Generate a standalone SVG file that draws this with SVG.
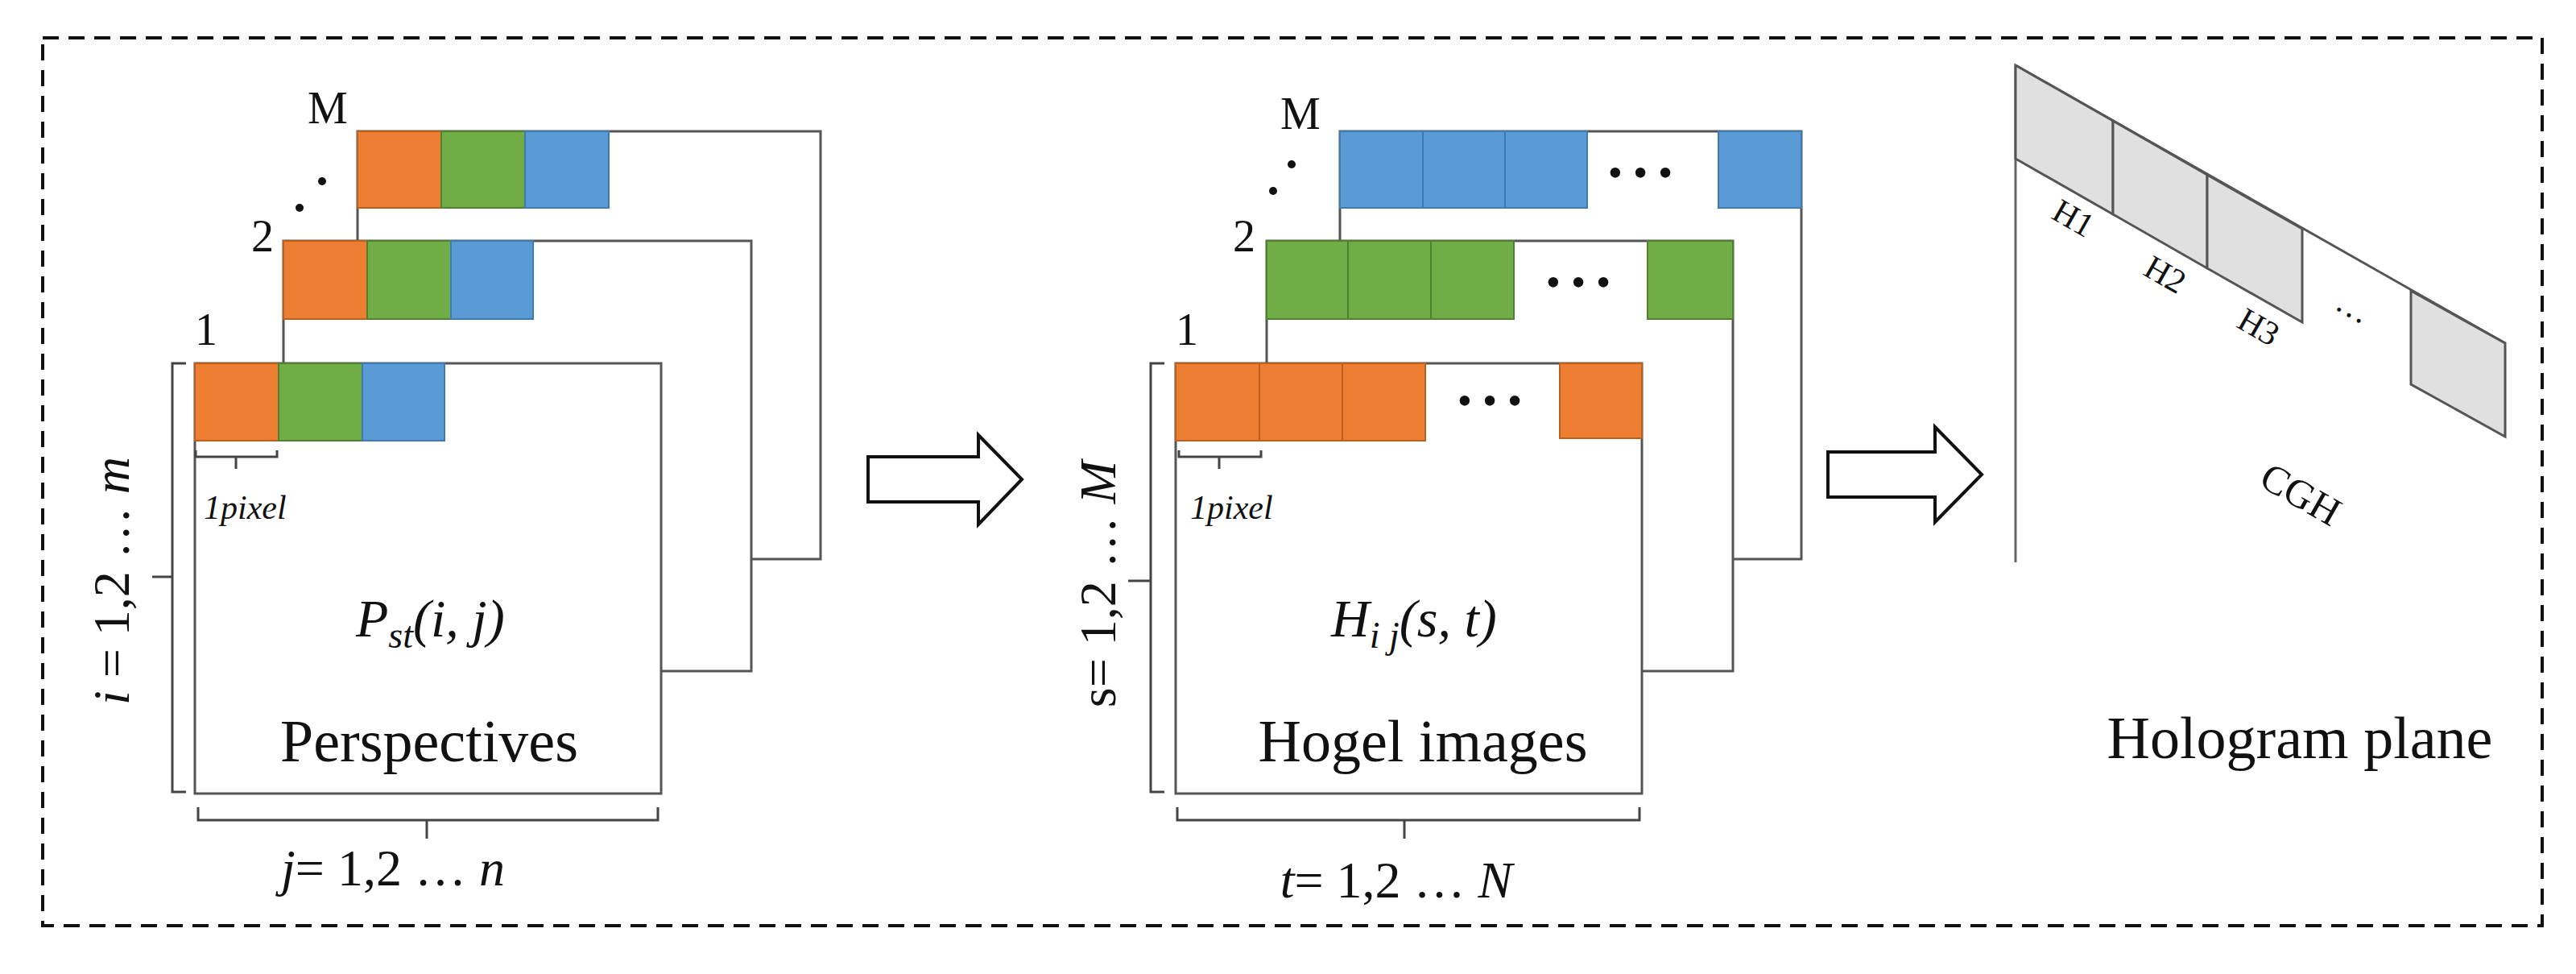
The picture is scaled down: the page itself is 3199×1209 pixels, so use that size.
<svg xmlns="http://www.w3.org/2000/svg" width="3199" height="1209" viewBox="0 0 3199 1209">
<style>
.fr{fill:#fff;stroke:#555;stroke-width:3}
.o{fill:#ED7D31;stroke:#B85F22;stroke-width:2}
.g{fill:#70AD47;stroke:#4F8230;stroke-width:2}
.b{fill:#5B9BD5;stroke:#3F7AB0;stroke-width:2}
.ln{fill:none;stroke:#444;stroke-width:3}
.t{font-family:'Liberation Serif','DejaVu Serif',serif;fill:#111}
.m{font-family:'Liberation Serif','DejaVu Serif',serif;font-style:italic;fill:#111}
.gc{fill:#E0E0E0;stroke:#555;stroke-width:3}
.ar{fill:#fff;stroke:#111;stroke-width:4}
</style>
<rect x="53" y="47" width="3104" height="1102" fill="none" stroke="#111" stroke-width="4" stroke-dasharray="20,12"/>
<g id="perspectives">
<rect class="fr" x="444" y="163" width="575" height="531"/>
<rect class="o" x="444" y="163" width="104" height="95"/><rect class="g" x="548" y="163" width="104" height="95"/><rect class="b" x="652" y="163" width="104" height="95"/>
<rect class="fr" x="352" y="299" width="581" height="534"/>
<rect class="o" x="352" y="299" width="104" height="97"/><rect class="g" x="456" y="299" width="104" height="97"/><rect class="b" x="560" y="299" width="102" height="97"/>
<rect class="fr" x="242" y="451" width="579" height="534"/>
<rect class="o" x="242" y="451" width="104" height="96"/><rect class="g" x="346" y="451" width="104" height="96"/><rect class="b" x="450" y="451" width="102" height="96"/>
<text class="t" x="256" y="428" font-size="56" text-anchor="middle">1</text>
<text class="t" x="326" y="312" font-size="56" text-anchor="middle">2</text>
<text class="t" x="407" y="153" font-size="56" text-anchor="middle">M</text>
<circle cx="372" cy="258" r="5" fill="#111"/><circle cx="400" cy="225" r="5" fill="#111"/>
<path class="ln" d="M231 451 H214 V983 H231 M214 716 H189" stroke-width="2"/>
<text class="m" transform="translate(160,721) rotate(-90)" font-size="64" text-anchor="middle">i <tspan font-style="normal">= 1,2 … </tspan>m</text>
<path class="ln" d="M243 559 V567 H344 V559 M293 567 V582" stroke-width="2"/>
<text class="m" x="253" y="644" font-size="42">1pixel</text>
<text class="m" x="442" y="790" font-size="66">P<tspan font-size="46" dy="14">st</tspan><tspan dy="-14">(i, j)</tspan></text>
<text class="t" x="533" y="945" font-size="74" text-anchor="middle">Perspectives</text>
<path class="ln" d="M246 1002 V1018 H817 V1002 M530 1018 V1041" stroke-width="2"/>
<text class="m" x="488" y="1099" font-size="64" text-anchor="middle">j<tspan font-style="normal">= 1,2 … </tspan>n</text>
</g>
<g id="hogels">
<rect class="fr" x="1664" y="163" width="573" height="531"/>
<rect class="b" x="1664" y="163" width="103" height="95"/><rect class="b" x="1767" y="163" width="102" height="95"/><rect class="b" x="1869" y="163" width="102" height="95"/><rect class="b" x="2134" y="163" width="103" height="95"/>
<text class="t" x="2037" y="232" font-size="52" text-anchor="middle">• • •</text>
<rect class="fr" x="1573" y="299" width="579" height="534"/>
<rect class="g" x="1573" y="299" width="101" height="97"/><rect class="g" x="1674" y="299" width="103" height="97"/><rect class="g" x="1777" y="299" width="103" height="97"/><rect class="g" x="2046" y="299" width="106" height="97"/>
<text class="t" x="1960" y="368" font-size="52" text-anchor="middle">• • •</text>
<rect class="fr" x="1460" y="451" width="579" height="534"/>
<rect class="o" x="1460" y="451" width="104" height="96"/><rect class="o" x="1564" y="451" width="103" height="96"/><rect class="o" x="1667" y="451" width="103" height="96"/><rect class="o" x="1937" y="451" width="102" height="93"/>
<text class="t" x="1850" y="515" font-size="52" text-anchor="middle">• • •</text>
<text class="t" x="1474" y="428" font-size="56" text-anchor="middle">1</text>
<text class="t" x="1545" y="312" font-size="56" text-anchor="middle">2</text>
<text class="t" x="1615" y="160" font-size="56" text-anchor="middle">M</text>
<circle cx="1581" cy="237" r="5" fill="#111"/><circle cx="1604" cy="204" r="5" fill="#111"/>
<path class="ln" d="M1446 451 H1429 V983 H1446 M1429 721 H1401" stroke-width="2"/>
<text class="t" transform="translate(1385,725) rotate(-90)" font-size="64" text-anchor="middle">s= 1,2 … <tspan font-style="italic">M</tspan></text>
<path class="ln" d="M1464 559 V567 H1566 V559 M1514 567 V582" stroke-width="2"/>
<text class="m" x="1478" y="644" font-size="42">1pixel</text>
<text class="m" x="1653" y="790" font-size="66">H<tspan font-size="46" dy="14">i j</tspan><tspan dy="-14">(s, t)</tspan></text>
<text class="t" x="1767" y="945" font-size="74" text-anchor="middle">Hogel images</text>
<path class="ln" d="M1462 1002 V1018 H2036 V1002 M1744 1018 V1041" stroke-width="2"/>
<text class="t" x="1734" y="1114" font-size="64" text-anchor="middle"><tspan font-style="italic">t</tspan>= 1,2 … <tspan font-style="italic">N</tspan></text>
</g>
<g id="hologram">
<line x1="2503" y1="81" x2="2503" y2="698" stroke="#666" stroke-width="3"/>
<line x1="2503" y1="81" x2="3111" y2="426" stroke="#555" stroke-width="3"/>
<polygon class="gc" points="2503,81 2624,150 2624,266 2503,197"/>
<polygon class="gc" points="2624,150 2741,217 2741,333 2624,266"/>
<polygon class="gc" points="2741,217 2859,284 2859,400 2741,333"/>
<polygon class="gc" points="2994,361 3111,426 3111,542 2994,477"/>
<text class="t" transform="translate(2568,283) rotate(29.7)" font-size="42" text-anchor="middle">H1</text>
<text class="t" transform="translate(2682,353) rotate(29.7)" font-size="42" text-anchor="middle">H2</text>
<text class="t" transform="translate(2798,418) rotate(29.7)" font-size="42" text-anchor="middle">H3</text>
<text class="t" transform="translate(2916,393) rotate(29.7)" font-size="42" text-anchor="middle">…</text>
<text class="t" transform="translate(2849,628) rotate(29.7)" font-size="50" text-anchor="middle">CGH</text>
<text class="t" x="2856" y="941" font-size="74" text-anchor="middle">Hologram plane</text>
</g>
<g id="connectors">
<polygon class="ar" points="1078,567 1215,567 1215,540 1269,595 1215,651 1215,623 1078,623"/>
<polygon class="ar" points="2270,561 2403,561 2403,530 2461,589 2403,648 2403,617 2270,617"/>
</g>
</svg>
